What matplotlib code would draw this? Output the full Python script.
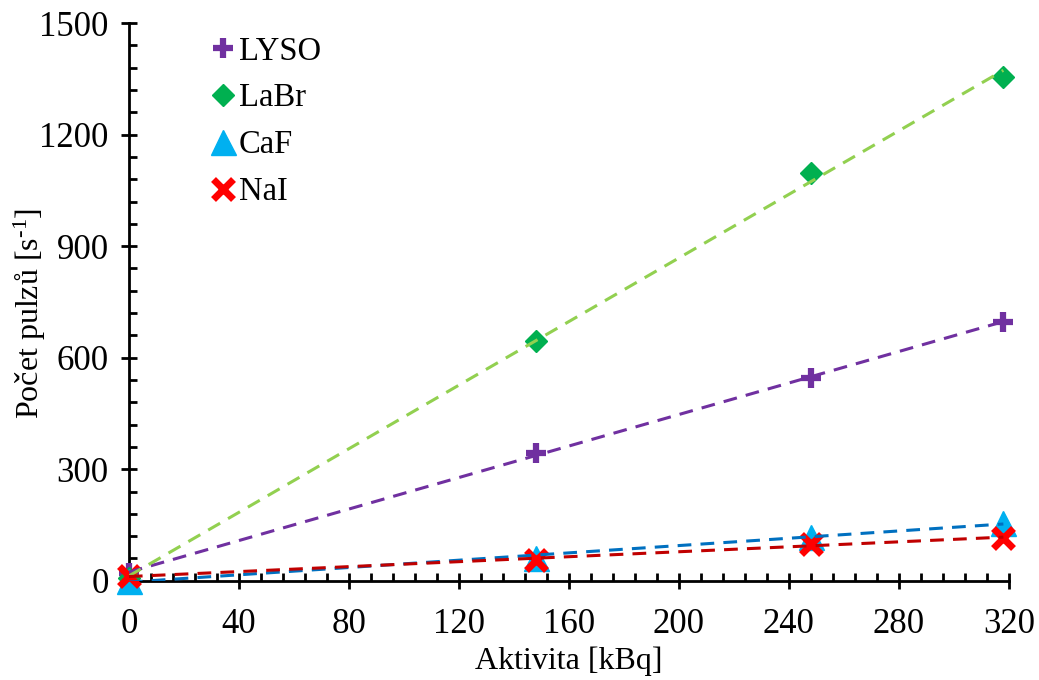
import numpy as np
import matplotlib
matplotlib.use("Agg")
import matplotlib.pyplot as plt
from matplotlib.ticker import MultipleLocator

plt.rcParams['font.family'] = ['Liberation Serif', 'DejaVu Serif']
plt.rcParams['mathtext.fontset'] = 'custom'
plt.rcParams['mathtext.rm'] = 'Liberation Serif'
plt.rcParams['mathtext.it'] = 'Liberation Serif:italic'

# activity [kBq]
activity = [0, 148, 248, 318]

# count rates [1/s]
lyso = [20, 344, 546, 696]
labr = [8, 645, 1097, 1355]
caf = [0, 62, 118, 156]
nai = [12, 57, 99, 115]

labels = ['LYSO', 'LaBr', 'CaF', 'NaI']
markers = ['+', 'D', '^', 'x']
marker_colors = ['#7030A0', '#00B050', '#00B0F0', '#FF0000']
line_colors = ['#7030A0', '#92D050', '#0070C0', '#C00000']
marker_sizes = [15, 11, 18, 14]
edge_widths = [4.5, 1, 1, 5]

tick_fs = 25
label_fs = 23
legend_fs = 23.5

fig = plt.figure(figsize=(10.39, 6.8), dpi=100)
ax = fig.add_axes([0.124, 0.146, 0.847, 0.82])

x = np.array(activity, dtype=float)
for y, lab, m, mc, lc, ms, mew in zip([lyso, labr, caf, nai], labels, markers,
                                      marker_colors, line_colors, marker_sizes, edge_widths):
    y = np.array(y, dtype=float)
    ax.plot(x, y, linestyle='none', marker=m, color=mc, markersize=ms,
            markeredgewidth=mew, label=lab, clip_on=False, zorder=3)
    # linear trend line
    k, q = np.polyfit(x, y, 1)
    xs = np.array([x.min(), x.max()])
    ax.plot(xs, k * xs + q, linestyle=(0, (4.5, 3)), color=lc, linewidth=2.2, zorder=4)

ax.set_xlim(0, 320)
ax.set_ylim(0, 1500)
ax.xaxis.set_major_locator(MultipleLocator(40))
ax.xaxis.set_minor_locator(MultipleLocator(8))
ax.yaxis.set_major_locator(MultipleLocator(300))
ax.yaxis.set_minor_locator(MultipleLocator(60))

for side in ['top', 'right']:
    ax.spines[side].set_visible(False)
for side in ['left', 'bottom']:
    ax.spines[side].set_linewidth(2)

ax.tick_params(which='major', direction='inout', length=11, width=2, labelsize=tick_fs, pad=14)
ax.tick_params(which='minor', direction='in', length=6, width=2)
ax.tick_params(axis='y', which='major', pad=9)

ax.set_xlabel('Aktivita [kBq]', fontsize=label_fs, labelpad=4)
ax.set_ylabel(r'Počet pulzů [s$^{\text{-1}}$]', fontsize=label_fs)
ax.yaxis.set_label_coords(-0.092, 0.48)

ax.legend(loc='upper left', bbox_to_anchor=(0.077, 1.0), frameon=False, fontsize=legend_fs,
          handlelength=0.8, handletextpad=0.1, labelspacing=0.5, borderaxespad=0.0)

fig.savefig('out.png', dpi=100)
